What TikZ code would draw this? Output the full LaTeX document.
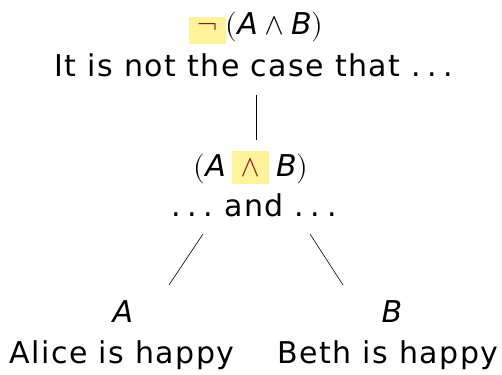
\documentclass[tikz,border=0pt]{standalone}
\usepackage{amsmath}
\usepackage{fontspec}
\usepackage{unicode-math}
\setmainfont[LetterSpace=5]{DejaVu Sans}
\setsansfont[LetterSpace=5]{DejaVu Sans}
\setmathfont{Latin Modern Math}
\usepackage{xcolor}
\definecolor{hl}{HTML}{FFF39A}
\definecolor{dred}{HTML}{8B1A1A}
\newcommand{\hlbox}[4]{{\setlength\fboxsep{0pt}\colorbox{hl}{\makebox[#1]{\rule[-#2]{0pt}{#3}\color{dred}#4}}}}
\newcommand{\va}{\text{\itshape A}}
\newcommand{\vb}{\text{\itshape B}}
\newcommand{\dts}{.\hspace{0.22em}.\hspace{0.22em}.}
\begin{document}
\begin{tikzpicture}[x=1pt,y=1pt,
  lbl/.style={inner sep=0pt,font=\fontsize{30}{36}\selectfont},
  edge/.style={line width=0.6pt}]
\useasboundingbox (0,0) rectangle (502,374);
\node[lbl] (f1) at (256,346) {$\hlbox{37pt}{9pt}{27pt}{$\neg$}(\va\wedge\vb)$};
\node[lbl] (t1) at (254,309) {It is not the case that \dts};
\node[lbl] (f2) at (251,206) {$(\va\mathbin{\hlbox{37pt}{8pt}{33pt}{$\wedge$}}\vb)$};
\node[lbl] (t2) at (254,169) {\dts\ and \dts};
\node[lbl] (a) at (123,62) {$\va$};
\node[lbl] (b) at (392,62) {$\vb$};
\node[lbl] (ta) at (122,19) {Alice is happy};
\node[lbl] (tb) at (388,19) {Beth is happy};
\coordinate (c1) at (256,279);
\coordinate (c2) at (256,234);
\coordinate (l1) at (203,140);
\coordinate (l2) at (169,89);
\coordinate (r1) at (310,140);
\coordinate (r2) at (343,89);
\draw[edge] (c1) -- (c2);
\draw[edge] (l1) -- (l2);
\draw[edge] (r1) -- (r2);
\end{tikzpicture}
\end{document}
